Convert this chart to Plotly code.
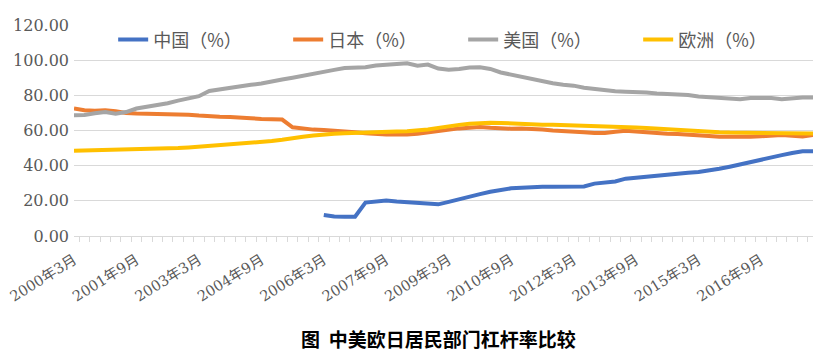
import plotly.graph_objects as go

# ---- data ----
years = list(range(2000, 2018))
months = [3, 6, 9, 12]
quarters = [f"{y}年{m}月" for y in years for m in months]

tick_labels = ["2000年3月", "2001年9月", "2003年3月", "2004年9月", "2006年3月",
               "2007年9月", "2009年3月", "2010年9月", "2012年3月", "2013年9月",
               "2015年3月", "2016年9月"]

china = [None] * 24 + [
    12.0, 11.1, 11.0, 11.0, 19.0, 19.6, 20.2, 19.6, 19.2, 18.8, 18.4, 18.0,
    19.4, 21.0, 22.7, 23.8, 25.2, 26.3, 27.1, 27.5, 27.9, 28.0, 28.0, 28.0,
    28.3, 28.2, 29.8, 30.4, 31.0, 32.6, 33.2, 33.8, 34.3, 35.2, 35.6, 36.0,
    36.4, 37.2, 38.2, 39.4, 40.8, 42.3, 43.5, 44.8, 46.0, 47.2, 48.2, 48.2]

japan = [72.5, 71.5, 71.3, 71.5, 71.0, 70.0, 69.7, 69.6, 69.6, 69.5, 69.5, 69.0,
         68.5, 68.0, 67.8, 67.7, 67.5, 67.0, 66.5, 66.2, 66.2, 61.8, 61.0, 60.5,
         60.3, 60.0, 59.3, 59.0, 58.5, 58.0, 57.7, 57.8, 57.7, 58.2, 59.0, 59.8,
         60.5, 61.2, 61.6, 62.0, 61.5, 61.0, 61.0, 61.2, 61.0, 60.5, 60.0, 59.8,
         59.2, 59.0, 58.6, 58.6, 59.3, 59.8, 59.4, 58.8, 58.5, 58.1, 58.0, 57.8,
         57.4, 56.9, 56.5, 56.4, 56.4, 56.5, 56.7, 57.2, 57.5, 57.0, 56.6, 57.5]

usa = [68.7, 68.8, 69.8, 70.5, 69.5, 70.5, 72.5, 73.5, 74.0, 75.5, 77.0, 78.5,
       79.5, 82.5, 83.5, 84.0, 85.0, 86.0, 86.7, 88.0, 89.0, 90.0, 91.2, 92.5,
       93.5, 94.5, 95.5, 95.8, 96.0, 97.0, 97.5, 98.0, 98.2, 96.8, 97.5, 95.2,
       94.5, 95.0, 95.8, 96.0, 95.0, 93.0, 91.7, 90.5, 89.3, 88.2, 86.9, 86.0,
       85.5, 84.3, 83.5, 83.0, 82.3, 82.0, 82.0, 81.6, 81.1, 80.9, 80.6, 80.2,
       79.4, 79.0, 78.4, 78.2, 77.8, 78.5, 78.7, 78.5, 77.8, 78.5, 78.7, 78.7]

europe = [48.5, 48.6, 49.0, 49.1, 49.1, 49.1, 49.2, 49.5, 49.6, 49.8, 50.0, 50.4,
          50.8, 51.1, 51.6, 52.2, 52.5, 52.8, 53.3, 54.0, 54.7, 55.8, 56.5, 57.2,
          57.8, 58.2, 58.4, 58.7, 59.0, 59.0, 59.1, 59.4, 59.6, 60.0, 60.6, 61.5,
          62.5, 63.2, 63.8, 64.3, 64.4, 64.3, 64.0, 63.6, 63.3, 63.3, 63.3, 63.1,
          63.0, 62.9, 62.8, 62.8, 62.6, 62.2, 61.7, 61.4, 61.0, 60.8, 60.6, 60.3,
          59.7, 59.3, 59.0, 58.8, 58.7, 58.7, 58.7, 58.7, 58.5, 58.4, 58.3, 58.3]

series = [
    ("中国（%）", china, "#4472C4"),
    ("日本（%）", japan, "#ED7D31"),
    ("美国（%）", usa, "#A5A5A5"),
    ("欧洲（%）", europe, "#FFC000"),
]

title_text = "图  中美欧日居民部门杠杆率比较"

# ---- figure ----
fig = go.Figure()
for name, vals, color in series:
    fig.add_trace(go.Scatter(x=quarters, y=vals, name=name, mode="lines",
                             line=dict(color=color, width=4), connectgaps=False))

ticktext = [q if q in tick_labels else "" for q in quarters]

# page body has an 8px margin, so the figure is placed 8px right/down
ML, MT, MR, MB = 66, 17, 28, 133
plot_h = 361 - MT - MB

serif = "DejaVu Serif, Noto Sans CJK SC, serif"
fig.update_layout(
    width=833, height=361,
    margin=dict(l=ML, r=MR, t=MT, b=MB, autoexpand=False),
    paper_bgcolor="white", plot_bgcolor="white",
    showlegend=True,
    legend=dict(orientation="h", x=0.053, y=0.93, xanchor="left", yanchor="middle",
                font=dict(family="Noto Sans CJK SC", size=18, color="#595959"),
                entrywidth=130, bgcolor="rgba(0,0,0,0)"),
    xaxis=dict(type="category", tickmode="array", tickvals=quarters, ticktext=ticktext,
               tickson="boundaries", ticks="outside", ticklen=5, tickcolor="#D9D9D9",
               showline=True, linecolor="#D9D9D9", linewidth=1, showgrid=False,
               automargin=False, ticklabelstandoff=9,
               tickangle=-32, tickfont=dict(family=serif, size=14.5, color="#595959")),
    yaxis=dict(range=[0, 120], dtick=20, tickformat=".2f", showgrid=True,
               gridcolor="#D9D9D9", gridwidth=1, zeroline=False, showline=False,
               automargin=False, ticks="", ticklabelstandoff=4,
               tickfont=dict(family=serif, size=16, color="#595959")),
    annotations=[dict(text="<b>" + title_text + "</b>", xref="paper", yref="paper",
                      x=(430 - ML) / 739, y=-(330 - (MT + plot_h)) / plot_h,
                      xanchor="center", yanchor="middle", showarrow=False,
                      font=dict(family="Noto Sans CJK SC", size=19, color="#000000"))],
)

fig.write_html("out.html")
